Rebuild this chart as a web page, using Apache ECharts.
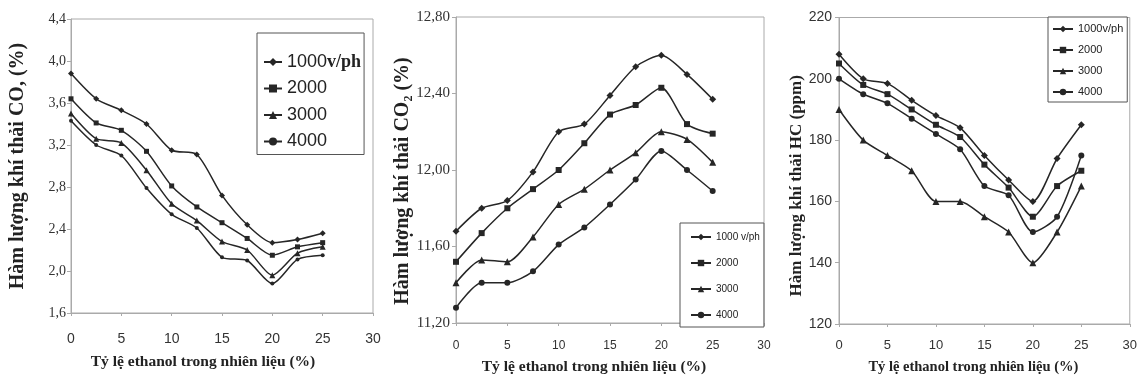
<!DOCTYPE html>
<html>
<head>
<meta charset="utf-8">
<script src="https://cdn.jsdelivr.net/npm/echarts@6/dist/echarts.min.js"></script>
<style>html,body{margin:0;padding:0;background:#fff}#c{width:1140px;height:380px}</style>
</head>
<body>
<div id="c"></div>
<script>
// x values: ethanol ratio (%)
const xVals = [0, 2.5, 5, 7.5, 10, 12.5, 15, 17.5, 20, 22.5, 25];
const xTicks = [0, 5, 10, 15, 20, 25, 30];

// Panel 1: CO (%)
const co1000 = [3.88, 3.64, 3.53, 3.40, 3.15, 3.11, 2.72, 2.44, 2.27, 2.30, 2.36];
const co2000 = [3.64, 3.41, 3.34, 3.14, 2.81, 2.61, 2.46, 2.31, 2.15, 2.23, 2.27];
const co3000 = [3.50, 3.26, 3.22, 2.96, 2.64, 2.48, 2.28, 2.20, 1.96, 2.17, 2.23];
const co4000 = [3.43, 3.20, 3.10, 2.79, 2.54, 2.41, 2.13, 2.10, 1.88, 2.11, 2.15];
const coTicks = [1.6, 2.0, 2.4, 2.8, 3.2, 3.6, 4.0, 4.4];

// Panel 2: CO2 (%)
const co2_1000 = [11.68, 11.80, 11.84, 11.99, 12.20, 12.24, 12.39, 12.54, 12.60, 12.50, 12.37];
const co2_2000 = [11.52, 11.67, 11.80, 11.90, 12.00, 12.14, 12.29, 12.34, 12.43, 12.24, 12.19];
const co2_3000 = [11.41, 11.53, 11.52, 11.65, 11.82, 11.90, 12.00, 12.09, 12.20, 12.16, 12.04];
const co2_4000 = [11.28, 11.41, 11.41, 11.47, 11.61, 11.70, 11.82, 11.95, 12.10, 12.00, 11.89];
const co2Ticks = [11.2, 11.6, 12.0, 12.4, 12.8];

// Panel 3: HC (ppm)
const hc1000 = [208, 200, 198.5, 193, 188, 184, 175, 167, 160, 174, 185];
const hc2000 = [205, 198, 195, 190, 185, 181, 172, 164.5, 155, 165, 170];
const hc3000 = [190, 180, 175, 170, 160, 160, 155, 150, 140, 150, 165];
const hc4000 = [200, 195, 192, 187, 182, 177, 165, 162, 150, 155, 175];
const hcTicks = [120, 140, 160, 180, 200, 220];

const legend1 = ['1000v/ph', '2000', '3000', '4000'];
const legend2 = ['1000 v/ph', '2000', '3000', '4000'];
const legend3 = ['1000v/ph', '2000', '3000', '4000'];

const pair = v => xVals.map((x, i) => [x, v[i]]);
const LINE = '#262626';
const SERIF = 'Liberation Serif';
const SANS = 'Liberation Sans';

function mkSeries(panel, names, arrays, symbols, sizes) {
  return arrays.map((arr, i) => ({
    name: panel + '|' + names[i],
    type: 'line',
    xAxisIndex: panel - 1, yAxisIndex: panel - 1,
    data: pair(arr),
    smooth: 0.25,
    symbol: symbols[i], symbolSize: sizes[i],
    showSymbol: true,
    lineStyle: { color: LINE, width: 1.5 },
    itemStyle: { color: LINE, borderWidth: 0 },
    emphasis: { disabled: true },
    animation: false
  }));
}

const series = [].concat(
  mkSeries(1, legend1, [co1000, co2000, co3000, co4000], ['diamond', 'rect', 'triangle', 'circle'], [6, 5, 6, 4]),
  mkSeries(2, legend2, [co2_1000, co2_2000, co2_3000, co2_4000], ['diamond', 'rect', 'triangle', 'circle'], [7, 6, 7, 6]),
  mkSeries(3, legend3, [hc1000, hc2000, hc3000, hc4000], ['diamond', 'rect', 'triangle', 'circle'], [7, 6, 7, 6])
);

const grids = [
  { left: 71, top: 19, width: 302, height: 294 },
  { left: 456, top: 17, width: 308, height: 311 },
  { left: 839, top: 17.5, width: 291, height: 312.5 }
].map(g => Object.assign(g, { show: true, borderColor: '#aaa', borderWidth: 1, containLabel: false }));

const xName = 'Tỷ lệ ethanol trong nhiên liệu (%)';
function mkX(i, labelSize, margin, nameGap, nameSize, shift) {
  return {
    type: 'value', gridIndex: i, min: xTicks[0], max: xTicks[xTicks.length - 1], interval: 5,
    axisLine: { show: true, lineStyle: { color: '#aaa' } },
    axisTick: { show: true, length: 3, lineStyle: { color: '#aaa' } },
    splitLine: { show: false },
    axisLabel: { fontFamily: SANS, fontSize: labelSize, color: '#333', margin: margin },
    name: xName, nameLocation: 'middle', nameGap: nameGap,
    nameTextStyle: { fontFamily: SERIF, fontWeight: 'bold', fontSize: nameSize, color: '#222', verticalAlign: 'top', padding: [0, shift, 0, 0] }
  };
}
function mkY(i, ticks, interval, fmt, font, labelSize, margin, name, nameGap, nameSize, pad) {
  return {
    type: 'value', gridIndex: i, min: ticks[0], max: ticks[ticks.length - 1], interval: interval,
    axisLine: { show: true, lineStyle: { color: '#aaa' } },
    axisTick: { show: true, length: 4, lineStyle: { color: '#aaa' } },
    splitLine: { show: false },
    axisLabel: { fontFamily: font, fontSize: labelSize, color: '#333', margin: margin, formatter: fmt },
    name: name, nameLocation: 'middle', nameGap: nameGap, nameRotate: 90,
    nameTextStyle: { fontFamily: SERIF, fontWeight: 'bold', fontSize: nameSize, color: '#222', padding: pad }
  };
}

const legBase = {
  orient: 'vertical', selectedMode: false, borderColor: '#555', borderWidth: 1, backgroundColor: '#fff',
  formatter: n => n.split('|')[1]
};

const option = {
  animation: false,
  backgroundColor: '#fff',
  grid: grids,
  xAxis: [mkX(0, 14, 19, 41, 15.5, 38), mkX(1, 12, 17, 36, 15.5, 32), mkX(2, 13, 15, 36, 14.5, 22)],
  yAxis: [
    mkY(0, coTicks, 0.4, v => v.toFixed(1).replace('.', ','), SERIF, 14, 5, 'Hàm lượng khí thải CO, (%)', 43, 20, [0, 0, 0, 0]),
    mkY(1, co2Ticks, 0.4, v => v.toFixed(2).replace('.', ','), SERIF, 15, 6, 'Hàm lượng khí thải CO₂ (%)', 38, 20, [0, 22, 0, 0]),
    mkY(2, hcTicks, 20, v => String(v), SANS, 14, 7, 'Hàm lượng khí thải HC (ppm)', 33, 17, [0, 30, 0, 0])
  ],
  legend: [
    Object.assign({}, legBase, {
      left: 257, top: 33, padding: [20, 3, 4, 6], itemGap: 8.5, itemWidth: 18, itemHeight: 10,
      data: legend1.map(n => '1|' + n),
      formatter: n => { const t = n.split('|')[1]; return t === '1000v/ph' ? '{a|1000}{b|v/ph}' : '{a|' + t + '}'; },
      textStyle: { fontFamily: SANS, fontSize: 18, color: '#222', lineHeight: 18,
        rich: { a: { fontFamily: SANS, fontSize: 18, color: '#222', lineHeight: 18 }, b: { fontFamily: SERIF, fontWeight: 'bold', fontSize: 18, color: '#222', lineHeight: 18 } } }
    }),
    Object.assign({}, legBase, {
      left: 680, top: 223, padding: [9, 4, 7, 10], itemGap: 16, itemWidth: 20, itemHeight: 8,
      data: legend2.map(n => '2|' + n),
      textStyle: { fontFamily: SANS, fontSize: 10, color: '#222', lineHeight: 10 }
    }),
    Object.assign({}, legBase, {
      left: 1048, top: 17, padding: [6, 4, 4, 4], itemGap: 9, itemWidth: 20, itemHeight: 8,
      data: legend3.map(n => '3|' + n),
      textStyle: { fontFamily: SANS, fontSize: 11, color: '#222', lineHeight: 12 }
    })
  ],
  series: series
};

const chart = echarts.init(document.getElementById('c'), null, { renderer: 'canvas' });
chart.setOption(option);
</script>
</body>
</html>
